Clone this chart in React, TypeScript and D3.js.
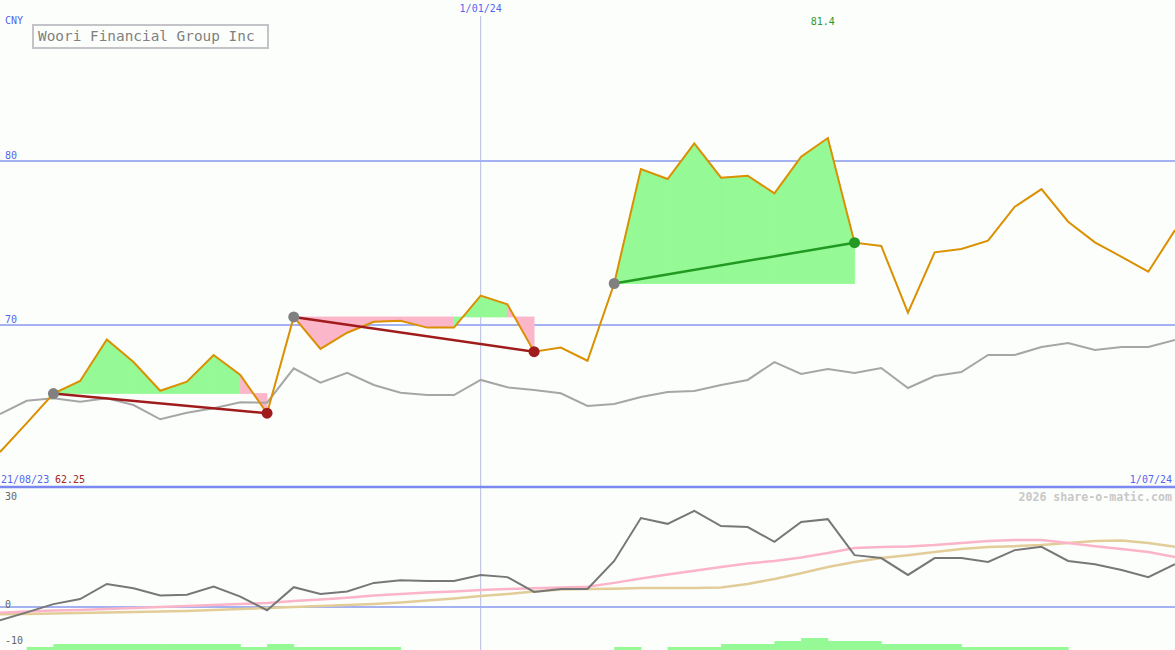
import { useMemo } from 'react';
import * as d3 from 'd3';

// weekly closes, 28/08/23 .. 1/07/24
const price = [
  62.25, 64.02, 65.82, 66.59, 69.12, 67.74, 65.99, 66.54, 68.17, 66.95,
  64.62, 70.49, 68.54, 69.53, 70.2, 70.26, 69.84, 69.84, 71.79, 71.26,
  68.37, 68.62, 67.82, 72.53, 79.51, 78.9, 81.08, 78.98, 79.1, 78.03,
  80.26, 81.4, 75.02, 74.82, 70.75, 74.43, 74.63, 75.14, 77.21, 78.29,
  76.3, 75.04, 74.16, 73.25, 75.79,
];

// comparison index (scaled to price units)
const compare = [
  64.57, 65.38, 65.53, 65.32, 65.53, 65.12, 64.25, 64.65, 64.92, 65.29,
  65.26, 67.36, 66.48, 67.09, 66.34, 65.87, 65.73, 65.73, 66.65, 66.2,
  66.04, 65.84, 65.06, 65.18, 65.61, 65.91, 65.98, 66.34, 66.65, 67.74,
  67.01, 67.32, 67.07, 67.38, 66.16, 66.89, 67.13, 68.17, 68.17, 68.66,
  68.9, 68.48, 68.66, 68.66, 69.09,
];

// lower panel
const momentum = [
  -3.7, -1.5, 0.8, 2.2, 6.4, 5.2, 3.2, 3.4, 5.7, 2.9,
  -0.9, 5.5, 3.6, 4.3, 6.7, 7.4, 7.2, 7.2, 8.9, 8.3,
  4.2, 5.0, 5.0, 12.8, 24.7, 23.1, 26.7, 22.5, 22.2, 18.1,
  23.6, 24.4, 14.4, 13.6, 8.9, 13.6, 13.6, 12.5, 15.8, 16.7,
  12.8, 11.9, 10.3, 8.3, 11.9,
];
const fastAvg = [
  -1.6, -1.25, -1.0, -0.8, -0.55, -0.3, 0, 0.3, 0.55, 0.8,
  1.1, 1.7, 2.1, 2.6, 3.2, 3.6, 4.0, 4.3, 4.7, 5.0,
  5.2, 5.4, 5.6, 6.7, 7.9, 9.0, 10.1, 11.1, 12.1, 12.8,
  13.75, 15.0, 16.4, 16.7, 16.8, 17.2, 17.8, 18.3, 18.6, 18.6,
  17.8, 16.9, 16.1, 15.3, 13.9,
];
const slowAvg = [
  -2.0, -1.95, -1.8, -1.65, -1.5, -1.4, -1.25, -1.1, -0.85, -0.55,
  -0.3, 0, 0.3, 0.55, 0.85, 1.25, 1.8, 2.35, 3.05, 3.6,
  4.3, 4.85, 5.0, 5.1, 5.3, 5.3, 5.3, 5.4, 6.4, 7.8,
  9.4, 11.1, 12.5, 13.6, 14.4, 15.3, 16.1, 16.7, 16.9, 17.2,
  17.8, 18.3, 18.5, 17.8, 16.7,
];
const volume = [
  0, 1, 2, 2, 2, 2, 2, 2, 2, 1, 2, 1, 1, 1, 1, 0, 0, 0, 0, 0, 0, 0, 0,
  1, 0, 1, 1, 2, 2, 3, 4, 3, 3, 2, 2, 2, 1, 1, 1, 1, 0, 0, 0, 0, 0,
];

// trend segments: [start index, end index]
const trends: [number, number][] = [
  [2, 10],
  [11, 20],
  [23, 32],
];

const priceTicks = [70, 80];
const lowerTicks = [30, 0, -10];

const W = 1175;
const H = 650;
const mono = '"DejaVu Sans Mono", "Liberation Mono", monospace';
const blue = '#5566ee';
const upFill = '#95f995';
const downFill = '#fbb6ca';

export default function App() {
  const dates = useMemo(
    () => price.map((_, i) => d3.timeWeek.offset(new Date(2023, 7, 28), i)),
    []
  );

  const x = d3
    .scaleTime()
    .domain([dates[0], dates[dates.length - 1]])
    .range([0, W]);
  const y = d3.scaleLinear().domain([70, 80]).range([325, 161]);
  const y2 = d3.scaleLinear().domain([0, 30]).range([607, 499]);
  const yv = d3.scaleLinear().domain([0, 4]).range([650, 638]);

  const line = (vals: number[], sy: d3.ScaleLinear<number, number>) =>
    d3
      .line<number>()
      .x((_, i) => x(dates[i]))
      .y((d) => sy(d))(vals) || '';

  const midLine = x(new Date(2024, 0, 1));

  return (
    <svg
      width={W}
      height={H}
      style={{ position: 'absolute', left: 0, top: 0, background: '#fcfefc' }}
      fontFamily={mono}
    >
      <rect width={W} height={H} fill="#fcfefc" />

      {/* grid */}
      <line x1={midLine} x2={midLine} y1={16} y2={H} stroke="#b4bce0" strokeWidth={1} />
      {priceTicks.map((t) => (
        <g key={t}>
          <line x1={0} x2={W} y1={y(t)} y2={y(t)} stroke="#a4b2f2" strokeWidth={2} />
          <text x={5} y={y(t) - 2} fontSize={10} fill={blue}>
            {t}
          </text>
        </g>
      ))}
      <line x1={0} x2={W} y1={487} y2={487} stroke="#7a88f0" strokeWidth={2.5} />
      <line x1={0} x2={W} y1={y2(0)} y2={y2(0)} stroke="#a4b2f2" strokeWidth={2} />

      {/* trend fills, one piece per week, coloured by where the week ends */}
      {trends.map(([s, e]) =>
        d3.range(s, e).map((k) => {
          const level = y(price[s]);
          const pts: [number, number][] = [
            [x(dates[k]), level],
            [x(dates[k]), y(price[k])],
            [x(dates[k + 1]), y(price[k + 1])],
            [x(dates[k + 1]), level],
          ];
          const c = price[k + 1] >= price[s] ? upFill : downFill;
          return (
            <path
              key={`f${k}`}
              d={d3.line()(pts) + 'Z'}
              fill={c}
              stroke={c}
              strokeWidth={0.8}
            />
          );
        })
      )}

      <path d={line(compare, y)} fill="none" stroke="#a6a6a6" strokeWidth={2} />
      <path d={line(price, y)} fill="none" stroke="#da9000" strokeWidth={2} />

      {trends.map(([s, e]) => {
        const up = price[e] > price[s];
        const c = up ? '#229922' : '#a01c1c';
        return (
          <g key={`t${s}`}>
            <line
              x1={x(dates[s])}
              y1={y(price[s])}
              x2={x(dates[e])}
              y2={y(price[e])}
              stroke={c}
              strokeWidth={2.5}
            />
            <circle cx={x(dates[s])} cy={y(price[s])} r={5.5} fill="#808080" />
            <circle cx={x(dates[e])} cy={y(price[e])} r={5.5} fill={c} />
          </g>
        );
      })}

      {/* lower panel */}
      {volume.map((v, i) =>
        v > 0 && i < dates.length - 1 ? (
          <rect
            key={`v${i}`}
            x={x(dates[i])}
            width={x(dates[i + 1]) - x(dates[i]) + 0.5}
            y={yv(v)}
            height={yv(0) - yv(v)}
            fill={upFill}
          />
        ) : null
      )}
      <path d={line(slowAvg, y2)} fill="none" stroke="#e2cc98" strokeWidth={2.5} />
      <path d={line(fastAvg, y2)} fill="none" stroke="#fbb4c8" strokeWidth={2.5} />
      <path d={line(momentum, y2)} fill="none" stroke="#777777" strokeWidth={2} />
      {lowerTicks.map((t) => (
        <text key={t} x={5} y={y2(t) + 1} fontSize={10} fill="#666">
          {t}
        </text>
      ))}

      {/* labels */}
      <text x={5} y={24} fontSize={10} fill={blue}>
        CNY
      </text>
      <rect x={33} y={25} width={235} height={23} fill="#fcfefc" stroke="#c4c4c8" strokeWidth={2} />
      <text x={38} y={41} fontSize={14.4} fill="#808080">
        Woori Financial Group Inc
      </text>
      <text x={midLine} y={12} fontSize={10} fill={blue} textAnchor="middle">
        1/01/24
      </text>
      <text
        x={x(dates[d3.maxIndex(price)]) - 5}
        y={25}
        fontSize={10}
        fill="#2a9a2a"
        textAnchor="middle"
      >
        {d3.max(price)}
      </text>
      <text x={1} y={483} fontSize={10} fill={blue}>
        21/08/23
      </text>
      <text x={55} y={483} fontSize={10} fill="#aa2222">
        {price[0]}
      </text>
      <text x={1172} y={483} fontSize={10} fill={blue} textAnchor="end">
        1/07/24
      </text>
      <text x={1172} y={501} fontSize={11.6} fontWeight="bold" fill="#c8c8c8" textAnchor="end">
        2026 share-o-matic.com
      </text>
    </svg>
  );
}
